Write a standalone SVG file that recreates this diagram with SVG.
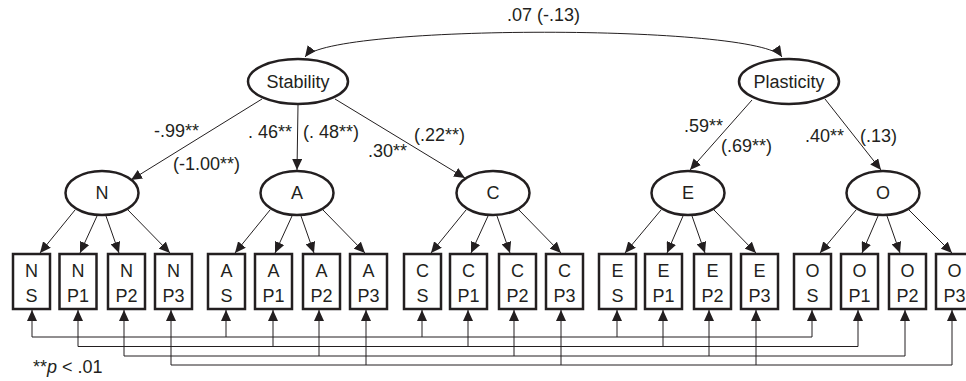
<svg xmlns="http://www.w3.org/2000/svg" width="966" height="381" viewBox="0 0 966 381">
<style>
text{font-family:"Liberation Sans",Arial,sans-serif;font-size:18px;fill:#231f20}
.lat ellipse{fill:#fff;stroke:#231f20;stroke-width:2.5}
.box rect{fill:#fff;stroke:#231f20;stroke-width:2.5}
.c line,.c path{stroke:#231f20;stroke-width:1;fill:none}
.m{text-anchor:middle}
</style>
<defs>
<marker id="ah" viewBox="0 0 11 10" refX="11" refY="5" markerWidth="11" markerHeight="10" markerUnits="userSpaceOnUse" orient="auto-start-reverse"><path d="M0,0 L11,5 L0,10 z" fill="#231f20"/></marker>
</defs>
<g id="connectors" class="c">
<path d="M305,57 C330,24 760,24 782,57" marker-start="url(#ah)" marker-end="url(#ah)"/>
<line x1="262" y1="99" x2="131" y2="180" marker-end="url(#ah)"/>
<line x1="298" y1="105" x2="297" y2="170" marker-end="url(#ah)"/>
<line x1="335" y1="99" x2="465" y2="178" marker-end="url(#ah)"/>
<line x1="752" y1="100" x2="690" y2="170" marker-end="url(#ah)"/>
<line x1="825" y1="99" x2="881" y2="170" marker-end="url(#ah)"/>
<g id="f-N">
<line x1="75" y1="210" x2="40" y2="253" marker-end="url(#ah)"/>
<line x1="97" y1="216" x2="80" y2="253" marker-end="url(#ah)"/>
<line x1="106" y1="216" x2="119" y2="253" marker-end="url(#ah)"/>
<line x1="128" y1="210" x2="170" y2="253" marker-end="url(#ah)"/>
</g>
<g id="f-A">
<line x1="270" y1="210" x2="235" y2="253" marker-end="url(#ah)"/>
<line x1="292" y1="216" x2="275" y2="253" marker-end="url(#ah)"/>
<line x1="301" y1="216" x2="314" y2="253" marker-end="url(#ah)"/>
<line x1="323" y1="210" x2="365" y2="253" marker-end="url(#ah)"/>
</g>
<g id="f-C">
<line x1="466" y1="210" x2="431" y2="253" marker-end="url(#ah)"/>
<line x1="488" y1="216" x2="471" y2="253" marker-end="url(#ah)"/>
<line x1="497" y1="216" x2="510" y2="253" marker-end="url(#ah)"/>
<line x1="519" y1="210" x2="561" y2="253" marker-end="url(#ah)"/>
</g>
<g id="f-E">
<line x1="661" y1="210" x2="625" y2="253" marker-end="url(#ah)"/>
<line x1="683" y1="216" x2="667" y2="253" marker-end="url(#ah)"/>
<line x1="692" y1="216" x2="705" y2="253" marker-end="url(#ah)"/>
<line x1="714" y1="210" x2="756" y2="253" marker-end="url(#ah)"/>
</g>
<g id="f-O">
<line x1="856" y1="210" x2="820" y2="253" marker-end="url(#ah)"/>
<line x1="878" y1="216" x2="862" y2="253" marker-end="url(#ah)"/>
<line x1="887" y1="216" x2="900" y2="253" marker-end="url(#ah)"/>
<line x1="909" y1="210" x2="952" y2="253" marker-end="url(#ah)"/>
</g>
<g id="cov-S">
<line x1="32" y1="337" x2="812" y2="337"/>
<line x1="32" y1="337" x2="32" y2="310" marker-end="url(#ah)"/>
<line x1="226" y1="337" x2="226" y2="310" marker-end="url(#ah)"/>
<line x1="422" y1="337" x2="422" y2="310" marker-end="url(#ah)"/>
<line x1="617" y1="337" x2="617" y2="310" marker-end="url(#ah)"/>
<line x1="812" y1="337" x2="812" y2="310" marker-end="url(#ah)"/>
</g>
<g id="cov-P1">
<line x1="78" y1="346.5" x2="858" y2="346.5"/>
<line x1="78" y1="346.5" x2="78" y2="310" marker-end="url(#ah)"/>
<line x1="273" y1="346.5" x2="273" y2="310" marker-end="url(#ah)"/>
<line x1="468" y1="346.5" x2="468" y2="310" marker-end="url(#ah)"/>
<line x1="663" y1="346.5" x2="663" y2="310" marker-end="url(#ah)"/>
<line x1="858" y1="346.5" x2="858" y2="310" marker-end="url(#ah)"/>
</g>
<g id="cov-P2">
<line x1="124" y1="356" x2="905" y2="356"/>
<line x1="124" y1="356" x2="124" y2="310" marker-end="url(#ah)"/>
<line x1="319" y1="356" x2="319" y2="310" marker-end="url(#ah)"/>
<line x1="514" y1="356" x2="514" y2="310" marker-end="url(#ah)"/>
<line x1="709" y1="356" x2="709" y2="310" marker-end="url(#ah)"/>
<line x1="905" y1="356" x2="905" y2="310" marker-end="url(#ah)"/>
</g>
<g id="cov-P3">
<line x1="171" y1="365" x2="952" y2="365"/>
<line x1="171" y1="365" x2="171" y2="310" marker-end="url(#ah)"/>
<line x1="366" y1="365" x2="366" y2="310" marker-end="url(#ah)"/>
<line x1="561" y1="365" x2="561" y2="310" marker-end="url(#ah)"/>
<line x1="756" y1="365" x2="756" y2="310" marker-end="url(#ah)"/>
<line x1="952" y1="365" x2="952" y2="310" marker-end="url(#ah)"/>
</g>
</g>
<g id="labels">
<text x="507" y="21">.07 (-.13)</text>
<text x="154" y="137">-.99**</text>
<text x="173" y="170">(-1.00**)</text>
<text x="248" y="138">. 46**</text>
<text x="303" y="138">(. 48**)</text>
<text x="368" y="157">.30**</text>
<text x="414" y="141">(.22**)</text>
<text x="684" y="132">.59**</text>
<text x="721" y="152">(.69**)</text>
<text x="805" y="142">.40**</text>
<text x="860" y="142">(.13)</text>
<text x="33" y="373">**<tspan font-style="italic">p</tspan> &lt; .01</text>
</g>
<g id="Stability" class="lat"><ellipse cx="298" cy="81.5" rx="50" ry="22.5"/><text class="m" x="298" y="88">Stability</text></g>
<g id="Plasticity" class="lat"><ellipse cx="789" cy="81.5" rx="50" ry="22.5"/><text class="m" x="789" y="88">Plasticity</text></g>
<g id="N" class="lat"><ellipse cx="102" cy="193" rx="36.5" ry="22"/><text class="m" x="102" y="199">N</text></g>
<g id="A" class="lat"><ellipse cx="297" cy="193" rx="36.5" ry="22"/><text class="m" x="297" y="199">A</text></g>
<g id="C" class="lat"><ellipse cx="493" cy="193" rx="36.5" ry="22"/><text class="m" x="493" y="199">C</text></g>
<g id="E" class="lat"><ellipse cx="688" cy="193" rx="36.5" ry="22"/><text class="m" x="688" y="199">E</text></g>
<g id="O" class="lat"><ellipse cx="883" cy="193" rx="36.5" ry="22"/><text class="m" x="883" y="199">O</text></g>
<g id="NS" class="box"><rect x="13" y="254" width="37" height="55"/><text class="m" x="31.5" y="277">N</text><text class="m" x="31.5" y="302">S</text></g>
<g id="NP1" class="box"><rect x="59.5" y="254" width="37" height="55"/><text class="m" x="78" y="277">N</text><text class="m" x="78" y="302">P1</text></g>
<g id="NP2" class="box"><rect x="108" y="254" width="37" height="55"/><text class="m" x="126.5" y="277">N</text><text class="m" x="126.5" y="302">P2</text></g>
<g id="NP3" class="box"><rect x="155" y="254" width="37" height="55"/><text class="m" x="173.5" y="277">N</text><text class="m" x="173.5" y="302">P3</text></g>
<g id="AS" class="box"><rect x="208" y="254" width="37" height="55"/><text class="m" x="226.5" y="277">A</text><text class="m" x="226.5" y="302">S</text></g>
<g id="AP1" class="box"><rect x="255" y="254" width="37" height="55"/><text class="m" x="273.5" y="277">A</text><text class="m" x="273.5" y="302">P1</text></g>
<g id="AP2" class="box"><rect x="303" y="254" width="37" height="55"/><text class="m" x="321.5" y="277">A</text><text class="m" x="321.5" y="302">P2</text></g>
<g id="AP3" class="box"><rect x="350" y="254" width="37" height="55"/><text class="m" x="368.5" y="277">A</text><text class="m" x="368.5" y="302">P3</text></g>
<g id="CS" class="box"><rect x="404" y="254" width="37" height="55"/><text class="m" x="422.5" y="277">C</text><text class="m" x="422.5" y="302">S</text></g>
<g id="CP1" class="box"><rect x="450" y="254" width="37" height="55"/><text class="m" x="468.5" y="277">C</text><text class="m" x="468.5" y="302">P1</text></g>
<g id="CP2" class="box"><rect x="499" y="254" width="37" height="55"/><text class="m" x="517.5" y="277">C</text><text class="m" x="517.5" y="302">P2</text></g>
<g id="CP3" class="box"><rect x="546" y="254" width="37" height="55"/><text class="m" x="564.5" y="277">C</text><text class="m" x="564.5" y="302">P3</text></g>
<g id="ES" class="box"><rect x="599" y="254" width="37" height="55"/><text class="m" x="617.5" y="277">E</text><text class="m" x="617.5" y="302">S</text></g>
<g id="EP1" class="box"><rect x="645" y="254" width="37" height="55"/><text class="m" x="663.5" y="277">E</text><text class="m" x="663.5" y="302">P1</text></g>
<g id="EP2" class="box"><rect x="694" y="254" width="37" height="55"/><text class="m" x="712.5" y="277">E</text><text class="m" x="712.5" y="302">P2</text></g>
<g id="EP3" class="box"><rect x="741" y="254" width="37" height="55"/><text class="m" x="759.5" y="277">E</text><text class="m" x="759.5" y="302">P3</text></g>
<g id="OS" class="box"><rect x="794" y="254" width="37" height="55"/><text class="m" x="812.5" y="277">O</text><text class="m" x="812.5" y="302">S</text></g>
<g id="OP1" class="box"><rect x="841" y="254" width="37" height="55"/><text class="m" x="859.5" y="277">O</text><text class="m" x="859.5" y="302">P1</text></g>
<g id="OP2" class="box"><rect x="889" y="254" width="37" height="55"/><text class="m" x="907.5" y="277">O</text><text class="m" x="907.5" y="302">P2</text></g>
<g id="OP3" class="box"><rect x="936" y="254" width="37" height="55"/><text class="m" x="954.5" y="277">O</text><text class="m" x="954.5" y="302">P3</text></g>
</svg>
